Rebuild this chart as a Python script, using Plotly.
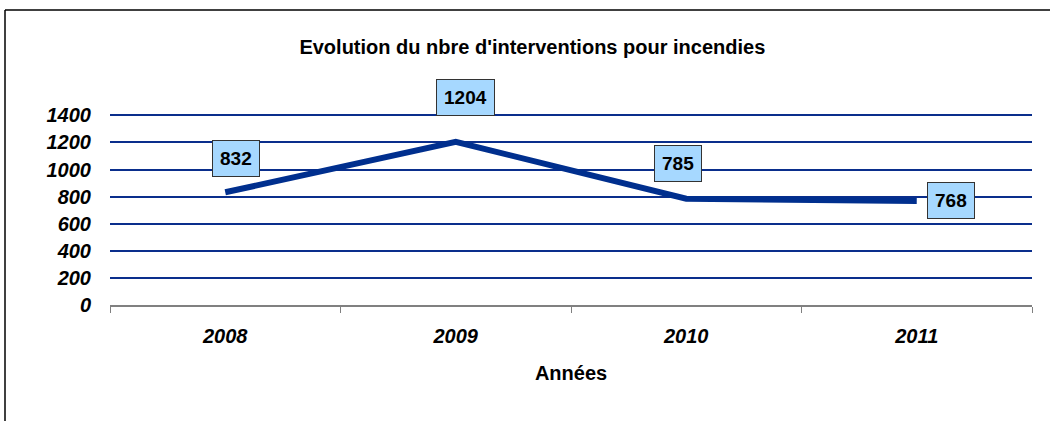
import plotly.graph_objects as go

# data
years = ["2008", "2009", "2010", "2011"]
interventions = [832, 1204, 785, 768]
y_ticks = [0, 200, 400, 600, 800, 1000, 1200, 1400]

# label offsets (pixels) like the manually placed Excel labels
label_dx = [11, 10, -8, 34]
label_dy = [-34, -44, -35, 0]

LINE_COLOR = "#002F8E"
GRID_COLOR = "#0A2E8C"
LABEL_FILL = "#A6D8FF"
FONT = "Liberation Sans, Arial, sans-serif"

W, H = 1050, 421
M_L, M_R, M_T, M_B = 110, 18, 114, 116
Y_MAX = 1410  # a little headroom so the 1400 gridline is kept

fig = go.Figure()
fig.add_trace(
    go.Scatter(
        x=years,
        y=interventions,
        mode="lines",
        line=dict(color=LINE_COLOR, width=6),
        hoverinfo="x+y",
    )
)

# category index used for annotation x (numeric-looking names would be read as numbers)
for i, (v, dx, dy) in enumerate(zip(interventions, label_dx, label_dy)):
    fig.add_annotation(
        x=i, y=v, text=f"<b>{v}</b>",
        showarrow=True, arrowcolor="rgba(0,0,0,0)", arrowwidth=0.1,
        ax=dx, ay=dy,
        bgcolor=LABEL_FILL, bordercolor="#333333", borderwidth=1, borderpad=7,
        font=dict(family=FONT, size=19, color="black"),
    )

# outer frame (top and left edges only, as in the picture)
pw = W - M_L - M_R
ph = H - M_T - M_B
x_left = (5 - M_L) / pw
x_right = (W + 5 - M_L) / pw
y_top = (H - M_B - 10) / ph
y_bot = (H - M_B - H - 5) / ph
fig.add_shape(type="line", xref="paper", yref="paper",
              x0=x_left, x1=x_right, y0=y_top, y1=y_top,
              line=dict(color="black", width=1.5))
fig.add_shape(type="line", xref="paper", yref="paper",
              x0=x_left, x1=x_left, y0=y_bot, y1=y_top,
              line=dict(color="black", width=1.5))

tick_font = dict(family=FONT, size=20, color="black", weight="bold", style="italic")

fig.update_layout(
    width=W, height=H,
    margin=dict(l=M_L, r=M_R, t=M_T, b=M_B),
    plot_bgcolor="white", paper_bgcolor="white",
    showlegend=False,
    font=dict(family=FONT, color="black", size=16),
    title=dict(
        text="<b>Evolution du nbre d'interventions pour incendies</b>",
        x=0.507, xanchor="center", y=1 - 47 / H, yanchor="middle",
        font=dict(family=FONT, size=20, color="black"),
    ),
    xaxis=dict(
        type="category",
        range=[-0.5, 3.5],
        showgrid=False, zeroline=False,
        showline=True, linecolor="#808080", linewidth=1.5,
        ticks="outside", tickson="boundaries", ticklen=6, tickcolor="#808080",
        tickfont=tick_font,
        ticklabelstandoff=12,
        title=dict(text="<b>Années</b>", standoff=20,
                   font=dict(family=FONT, size=20, color="black")),
    ),
    yaxis=dict(
        range=[0, Y_MAX],
        tickvals=y_ticks,
        showgrid=True, gridcolor=GRID_COLOR, gridwidth=2,
        zeroline=False, showline=False,
        tickfont=tick_font,
        ticklabelstandoff=18,
    ),
)

fig.write_html("out.html", config={"displayModeBar": False},
               post_script="document.body.style.margin='0';")
